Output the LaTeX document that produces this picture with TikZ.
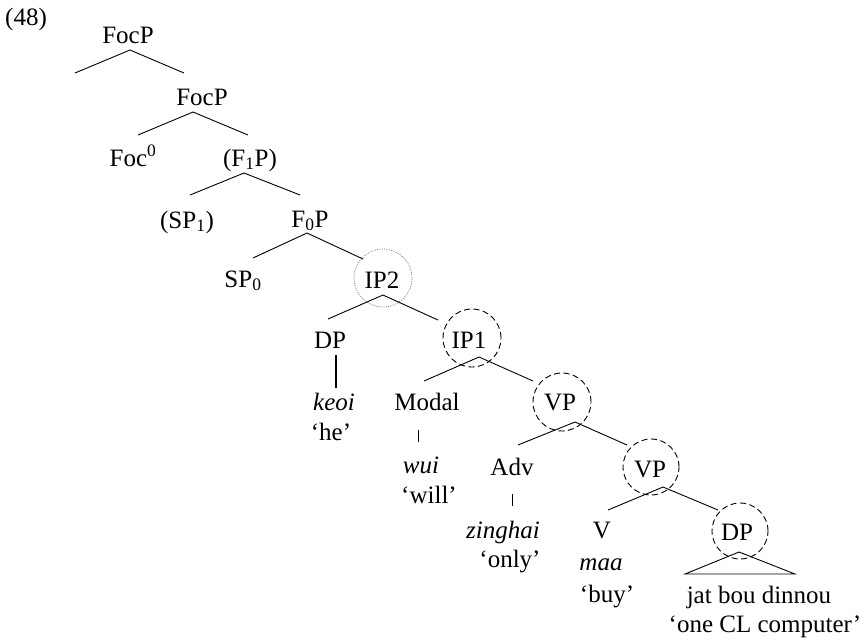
\documentclass[tikz,border=0pt]{standalone}
\usepackage{fontspec}
\setmainfont{Liberation Serif}
\begin{document}
\begin{tikzpicture}[x=1pt,y=-1pt,
  lbl/.style={font=\fontsize{25}{30}\selectfont, inner sep=0pt, anchor=base},
  it/.style={lbl, font=\fontsize{25}{30}\selectfont\itshape},
  branch/.style={line width=0.9pt},
  circd/.style={circle, draw, dash pattern=on 6pt off 3.5pt, line width=0.9pt, inner sep=0pt},
  circdot/.style={circle, draw, gray, dash pattern=on 1.2pt off 1.2pt, line width=0.7pt, inner sep=0pt}]
\useasboundingbox (0,0) rectangle (865,641);

% circles
\node[circdot, minimum size=58pt] (cIPtwo) at (383,278) {};
\node[circd, minimum size=58pt] (cIPone) at (472,338) {};
\node[circd, minimum size=58pt] (cVPone) at (562,402) {};
\node[circd, minimum size=56pt] (cVPtwo) at (651,467) {};
\node[circd, minimum size=56pt] (cDPtwo) at (740,531) {};

% labels
\node[lbl] (ex) at (26,25) {(48)};
\node[lbl] (focpA) at (128,43) {FocP};
\node[lbl] (focpB) at (202,105) {FocP};
\node[lbl] (foc) at (133,166) {Foc\textsuperscript{0}};
\node[lbl] (fone) at (250,166) {(F\textsubscript{1}P)};
\node[lbl] (spone) at (187,228) {(SP\textsubscript{1})};
\node[lbl] (fzero) at (310,227) {F\textsubscript{0}P};
\node[lbl] (spzero) at (243,287) {SP\textsubscript{0}};
\node[lbl] (iptwo) at (382,288) {IP2};
\node[lbl] (dpA) at (330,348) {DP};
\node[lbl] (ipone) at (469,348) {IP1};
\node[it] (keoi) at (334,410) {keoi};
\node[lbl] (modal) at (427,410) {Modal};
\node[lbl] (vpA) at (560,410) {VP};
\node[lbl] (he) at (331,440) {‘he’};
\node[it] (wui) at (421,473) {wui};
\node[lbl] (adv) at (512,475) {Adv};
\node[lbl] (vpB) at (650,477) {VP};
\node[lbl] (will) at (429,503) {‘will’};
\node[it] (zinghai) at (503,538) {zinghai};
\node[lbl] (v) at (602,538) {V};
\node[lbl] (dpB) at (737,540) {DP};
\node[lbl] (only) at (510,567) {‘only’};
\node[it] (maa) at (601,570) {maa};
\node[lbl] (buy) at (607,602) {‘buy’};
\node[lbl] (jat) at (759,603) {jat bou dinnou};
\node[lbl] (one) at (765,632) {‘one CL computer’};

% branch points
\coordinate (a1) at (130,50);  \coordinate (l1) at (75,73);   \coordinate (r1) at (184,73);
\coordinate (a2) at (193,112); \coordinate (l2) at (138,135); \coordinate (r2) at (248,135);
\coordinate (a3) at (244,173); \coordinate (l3) at (190,195); \coordinate (r3) at (300,195);
\coordinate (a4) at (307,233); \coordinate (l4) at (253,258); \coordinate (r4) at (363,259);
\coordinate (a5) at (383,295); \coordinate (l5) at (328,319); \coordinate (r5) at (438,320);
\coordinate (a6) at (479,357); \coordinate (l6) at (424,381); \coordinate (r6) at (533,381);
\coordinate (a7) at (575,422); \coordinate (l7) at (518,445); \coordinate (r7) at (627,445);
\coordinate (a8) at (663,487); \coordinate (l8) at (608,510); \coordinate (r8) at (718,510);
\coordinate (a9) at (739,552); \coordinate (l9) at (685,574); \coordinate (r9) at (795,574);

\foreach \i in {1,...,8} {\draw[branch] (l\i) -- (a\i) -- (r\i);}
\draw[branch] (a9) -- (l9) -- (r9) -- cycle;

% unary lines
\coordinate (dpt) at (336,355); \coordinate (dpb) at (336,388);
\draw[line width=1.6pt] (dpt) -- (dpb);
\coordinate (mt) at (418,430); \coordinate (mb) at (418,442);
\draw[line width=0.8pt] (mt) -- (mb);
\coordinate (advt) at (512,494); \coordinate (advb) at (512,506);
\draw[line width=0.8pt] (advt) -- (advb);
\end{tikzpicture}
\end{document}
